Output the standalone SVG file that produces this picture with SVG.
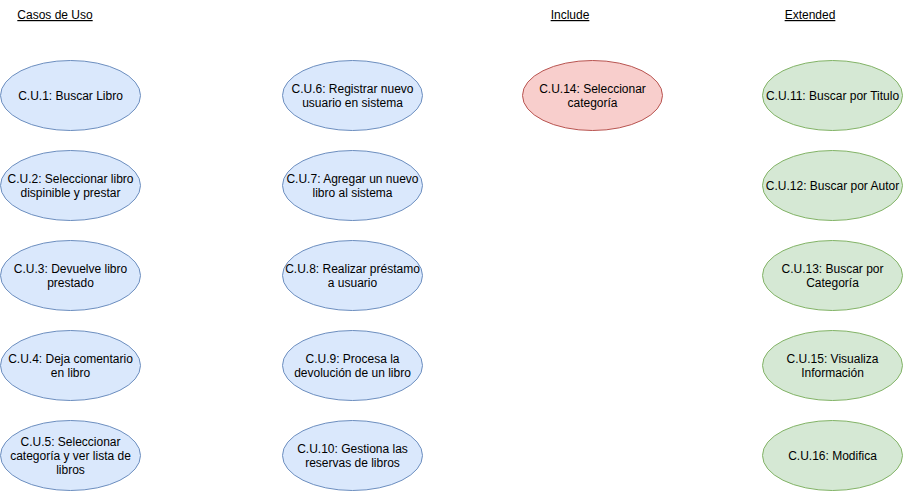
<svg xmlns="http://www.w3.org/2000/svg" width="903" height="491" viewBox="0 0 903 491">
<style>
text{font-family:"Liberation Sans",Arial,sans-serif;font-size:12px;fill:#000;text-anchor:middle}
.t{text-decoration:underline}
.b{fill:#dae8fc;stroke:#6c8ebf;stroke-width:1}
.r{fill:#f8cecc;stroke:#b85450;stroke-width:1}
.g{fill:#d5e8d4;stroke:#82b366;stroke-width:1}
</style>
<rect width="903" height="491" fill="#fff"/>
<g id="titles">
<text class="t" x="55" y="19">Casos de Uso</text>
<text class="t" x="570" y="19">Include</text>
<text class="t" x="810" y="19">Extended</text>
</g>
<g id="connectors"></g>
<g id="cu1"><ellipse class="b" cx="70.5" cy="95.5" rx="70" ry="35"/><text x="70.5" y="99.5">C.U.1: Buscar Libro</text></g>
<g id="cu2"><ellipse class="b" cx="70.5" cy="185.5" rx="70" ry="35"/><text x="70.5" y="182.5">C.U.2: Seleccionar libro</text><text x="70.5" y="196.5">dispinible y prestar</text></g>
<g id="cu3"><ellipse class="b" cx="70.5" cy="275.5" rx="70" ry="35"/><text x="70.5" y="272.5">C.U.3: Devuelve libro</text><text x="70.5" y="286.5">prestado</text></g>
<g id="cu4"><ellipse class="b" cx="70.5" cy="365.5" rx="70" ry="35"/><text x="70.5" y="362.5">C.U.4: Deja comentario</text><text x="70.5" y="376.5">en libro</text></g>
<g id="cu5"><ellipse class="b" cx="70.5" cy="455.5" rx="70" ry="35"/><text x="70.5" y="445.5">C.U.5: Seleccionar</text><text x="70.5" y="459.5">categoría y ver lista de</text><text x="70.5" y="473.5">libros</text></g>
<g id="cu6"><ellipse class="b" cx="352.5" cy="95.5" rx="70" ry="35"/><text x="352.5" y="92.5">C.U.6: Registrar nuevo</text><text x="352.5" y="106.5">usuario en sistema</text></g>
<g id="cu7"><ellipse class="b" cx="352.5" cy="185.5" rx="70" ry="35"/><text x="352.5" y="182.5">C.U.7: Agregar un nuevo</text><text x="352.5" y="196.5">libro al sistema</text></g>
<g id="cu8"><ellipse class="b" cx="352.5" cy="275.5" rx="70" ry="35"/><text x="352.5" y="272.5">C.U.8: Realizar préstamo</text><text x="352.5" y="286.5">a usuario</text></g>
<g id="cu9"><ellipse class="b" cx="352.5" cy="365.5" rx="70" ry="35"/><text x="352.5" y="362.5">C.U.9: Procesa la</text><text x="352.5" y="376.5">devolución de un libro</text></g>
<g id="cu10"><ellipse class="b" cx="352.5" cy="455.5" rx="70" ry="35"/><text x="352.5" y="452.5">C.U.10: Gestiona las</text><text x="352.5" y="466.5">reservas de libros</text></g>
<g id="cu14"><ellipse class="r" cx="592.5" cy="95.5" rx="70" ry="35"/><text x="592.5" y="92.5">C.U.14: Seleccionar</text><text x="592.5" y="106.5">categoría</text></g>
<g id="cu11"><ellipse class="g" cx="832.5" cy="95.5" rx="70" ry="35"/><text x="832.5" y="99.5">C.U.11: Buscar por Titulo</text></g>
<g id="cu12"><ellipse class="g" cx="832.5" cy="185.5" rx="70" ry="35"/><text x="832.5" y="189.5">C.U.12: Buscar por Autor</text></g>
<g id="cu13"><ellipse class="g" cx="832.5" cy="275.5" rx="70" ry="35"/><text x="832.5" y="272.5">C.U.13: Buscar por</text><text x="832.5" y="286.5">Categoría</text></g>
<g id="cu15"><ellipse class="g" cx="832.5" cy="365.5" rx="70" ry="35"/><text x="832.5" y="362.5">C.U.15: Visualiza</text><text x="832.5" y="376.5">Información</text></g>
<g id="cu16"><ellipse class="g" cx="832.5" cy="455.5" rx="70" ry="35"/><text x="832.5" y="459.5">C.U.16: Modifica</text></g>
</svg>
